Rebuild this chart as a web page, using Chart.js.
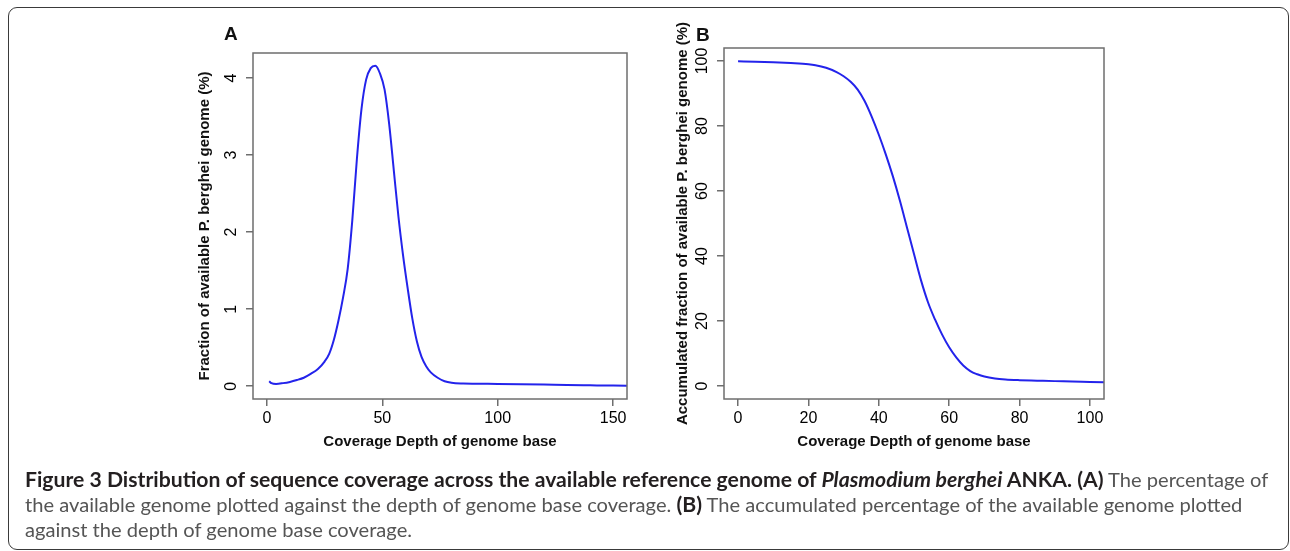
<!DOCTYPE html>
<html>
<head>
<meta charset="utf-8">
<script src="https://cdn.jsdelivr.net/npm/chart.js@4.4.1/dist/chart.umd.min.js"></script>
<style>
  html, body { margin: 0; padding: 0; background: #fff; }
  body { width: 1290px; height: 551px; position: relative; overflow: hidden; font-family: "Liberation Sans", Arial, sans-serif; }
  #frame { position: absolute; left: 8px; top: 7px; width: 1281px; height: 543px; border: 1.5px solid #3a3a3a; border-radius: 9px; box-sizing: border-box; }
  canvas { position: absolute; top: 0; }
  #chartA { left: 0; }
  #chartB { left: 660px; }
  .panel { position: absolute; font-weight: bold; font-size: 19px; line-height: 19px; color: #111; }
  #caption { position: absolute; left: 25px; top: 467px; line-height: 25px; font-family: Lato, "Open Sans", sans-serif; color: #555; white-space: nowrap; font-size: 17px; }
  #caption b { color: #231f20; font-weight: 700; }
  #caption span.ln { display: inline-block; }
</style>
</head>
<body>
<div id="frame"></div>
<canvas id="chartA" width="660" height="470"></canvas>
<canvas id="chartB" width="630" height="470"></canvas>
<div class="panel" style="left:224px; top:24px;">A</div>
<div class="panel" style="left:696px; top:25px;">B</div>
<div id="caption">
  <div><span class="ln" id="cap1"><b>Figure 3 Distribution of sequence coverage across the available reference genome of <i>Plasmodium berghei</i> ANKA. (A)</b> The percentage of</span></div>
  <div><span class="ln" id="cap2">the available genome plotted against the depth of genome base coverage. <b>(B)</b> The accumulated percentage of the available genome plotted</span></div>
  <div><span class="ln">against the depth of genome base coverage.</span></div>
</div>
<script>
// panel A - fraction of genome (%) at each coverage depth
var depthA = [1, 2, 4, 7, 10, 13, 16, 19, 22, 25, 27, 29, 31, 33, 35, 37, 39, 41, 43, 45, 47, 49, 51, 53, 55, 57, 59, 61, 63, 65, 67, 69, 71, 74, 77, 80, 85, 90, 100, 110, 120, 130, 140, 150, 160]
var fracA = [0.065, 0.04, 0.03, 0.04, 0.056, 0.08, 0.11, 0.16, 0.22, 0.32, 0.42, 0.6, 0.85, 1.15, 1.52, 2.15, 2.95, 3.6, 3.98, 4.13, 4.16, 4.06, 3.85, 3.4, 2.8, 2.2, 1.7, 1.27, 0.88, 0.58, 0.38, 0.26, 0.18, 0.11, 0.065, 0.045, 0.035, 0.032, 0.03, 0.027, 0.022, 0.016, 0.012, 0.008, 0.005]
var xTicksA = [0, 50, 100, 150]
var yTicksA = [0, 1, 2, 3, 4]

// panel B - accumulated fraction (%) covered at least this deep
var depthB = [0, 5, 10, 15, 20, 22, 25, 28, 30, 32, 34, 36, 38, 40, 42, 44, 46, 48, 50, 52, 54, 56, 58, 60, 62, 64, 66, 68, 70, 73, 76, 80, 85, 90, 95, 100, 106]
var accB = [99.9, 99.8, 99.6, 99.35, 99.0, 98.7, 97.9, 96.6, 95.3, 93.6, 91.2, 87.6, 82.8, 77.3, 71.2, 64.5, 57.0, 48.8, 40.6, 32.5, 25.7, 20.4, 15.8, 11.9, 8.8, 6.3, 4.6, 3.6, 2.9, 2.3, 2.0, 1.8, 1.65, 1.5, 1.4, 1.25, 1.1]
var xTicksB = [0, 20, 40, 60, 80, 100]
var yTicksB = [0, 20, 40, 60, 80, 100]

var axisGrey = '#6e6e6e'
var lineBlue = 'rgb(35, 35, 235)'

// R style box round the plot + y tick labels turned along the axis
var rBox = {
  id: 'rBox',
  afterDraw: function(chart) {
    var ctx = chart.ctx
    var a = chart.chartArea
    var y = chart.scales.y
    ctx.save()
    ctx.strokeStyle = axisGrey
    ctx.lineWidth = 1.5
    ctx.strokeRect(a.left, a.top, a.right - a.left, a.bottom - a.top)
    ctx.fillStyle = '#000'
    ctx.font = '16px "Liberation Sans", Arial, sans-serif'
    ctx.textAlign = 'center'
    ctx.textBaseline = 'middle'
    y.ticks.forEach(function(t) {
      ctx.save()
      ctx.translate(a.left - 21, y.getPixelForValue(t.value))
      ctx.rotate(-Math.PI / 2)
      ctx.fillText(String(t.value), 0, 0)
      ctx.restore()
    })
    ctx.restore()
  }
}

function points(xs, ys) {
  var pts = []
  for (var i = 0; i < xs.length; i++) {
    pts.push({x: xs[i], y: ys[i]})
  }
  return pts
}

function makeChart(id, o) {
  return new Chart(document.getElementById(id), {
    type: 'line',
    data: {
      datasets: [{
        data: points(o.xs, o.ys),
        borderColor: lineBlue,
        borderWidth: 2,
        pointRadius: 0,
        cubicInterpolationMode: 'monotone',
        clip: 0
      }]
    },
    options: {
      responsive: false,
      animation: false,
      layout: { padding: o.padding },
      plugins: { legend: { display: false }, tooltip: { enabled: false } },
      scales: {
        x: {
          type: 'linear',
          min: o.xMin, max: o.xMax,
          afterBuildTicks: function(s) { s.ticks = o.xTicks.map(function(v) { return {value: v} }) },
          afterFit: function(s) { s.height = 56 },
          grid: { drawOnChartArea: false, drawTicks: true, tickLength: 7, color: axisGrey, lineWidth: 1.5 },
          border: { display: false },
          ticks: { autoSkip: false, maxRotation: 0, padding: 3, color: '#000', font: { family: '"Liberation Sans", Arial, sans-serif', size: 16 } },
          title: { display: true, text: 'Coverage Depth of genome base', color: '#111', padding: { top: 0, bottom: 4 },
                   font: { family: '"Liberation Sans", Arial, sans-serif', size: 15, weight: 'bold' } }
        },
        y: {
          min: o.yMin, max: o.yMax,
          afterBuildTicks: function(s) { s.ticks = o.yTicks.map(function(v) { return {value: v} }) },
          afterFit: function(s) { s.width = o.yWidth },
          grid: { drawOnChartArea: false, drawTicks: true, tickLength: 7, color: axisGrey, lineWidth: 1.5 },
          border: { display: false },
          ticks: { display: false },
          title: { display: true, text: o.yTitle, color: '#111', padding: { top: o.yTitlePad, bottom: 0 },
                   font: { family: '"Liberation Sans", Arial, sans-serif', size: 15, weight: 'bold' } }
        }
      }
    },
    plugins: [rBox]
  })
}

makeChart('chartA', {
  xs: depthA, ys: fracA, xTicks: xTicksA, yTicks: yTicksA,
  xMin: -6, xMax: 156, yMin: -0.166, yMax: 4.326,
  padding: { left: 180, top: 53, right: 33, bottom: 15 },
  yWidth: 73, yTitlePad: 16,
  yTitle: 'Fraction of available P. berghei genome (%)'
})

makeChart('chartB', {
  xs: depthB, ys: accB, xTicks: xTicksB, yTicks: yTicksB,
  xMin: -4, xMax: 104, yMin: -4, yMax: 104,
  padding: { left: 0, top: 48, right: 186, bottom: 15 },
  yWidth: 64, yTitlePad: 14,
  yTitle: 'Accumulated fraction of available P. berghei genome (%)'
})

// caption: bold and plain runs get their own size so lines 1 and 2 end where they do in the figure
function fitCaption() {
  var cap = document.getElementById('caption')
  var bolds = cap.querySelectorAll('b')
  var fr = 17, fb = 17
  for (var k = 0; k < 4; k++) {
    cap.style.fontSize = fr + 'px'
    bolds.forEach(function(b) { b.style.fontSize = fb + 'px' })
    var w2 = document.getElementById('cap2').getBoundingClientRect().width
    fr = fr * 1217 / w2
    cap.style.fontSize = fr + 'px'
    var w1 = document.getElementById('cap1').getBoundingClientRect().width
    fb = fb * 1243 / w1
  }
  cap.style.fontSize = fr + 'px'
  bolds.forEach(function(b) { b.style.fontSize = fb + 'px' })
}
fitCaption()
if (document.fonts && document.fonts.ready) document.fonts.ready.then(fitCaption)
</script>
</body>
</html>
